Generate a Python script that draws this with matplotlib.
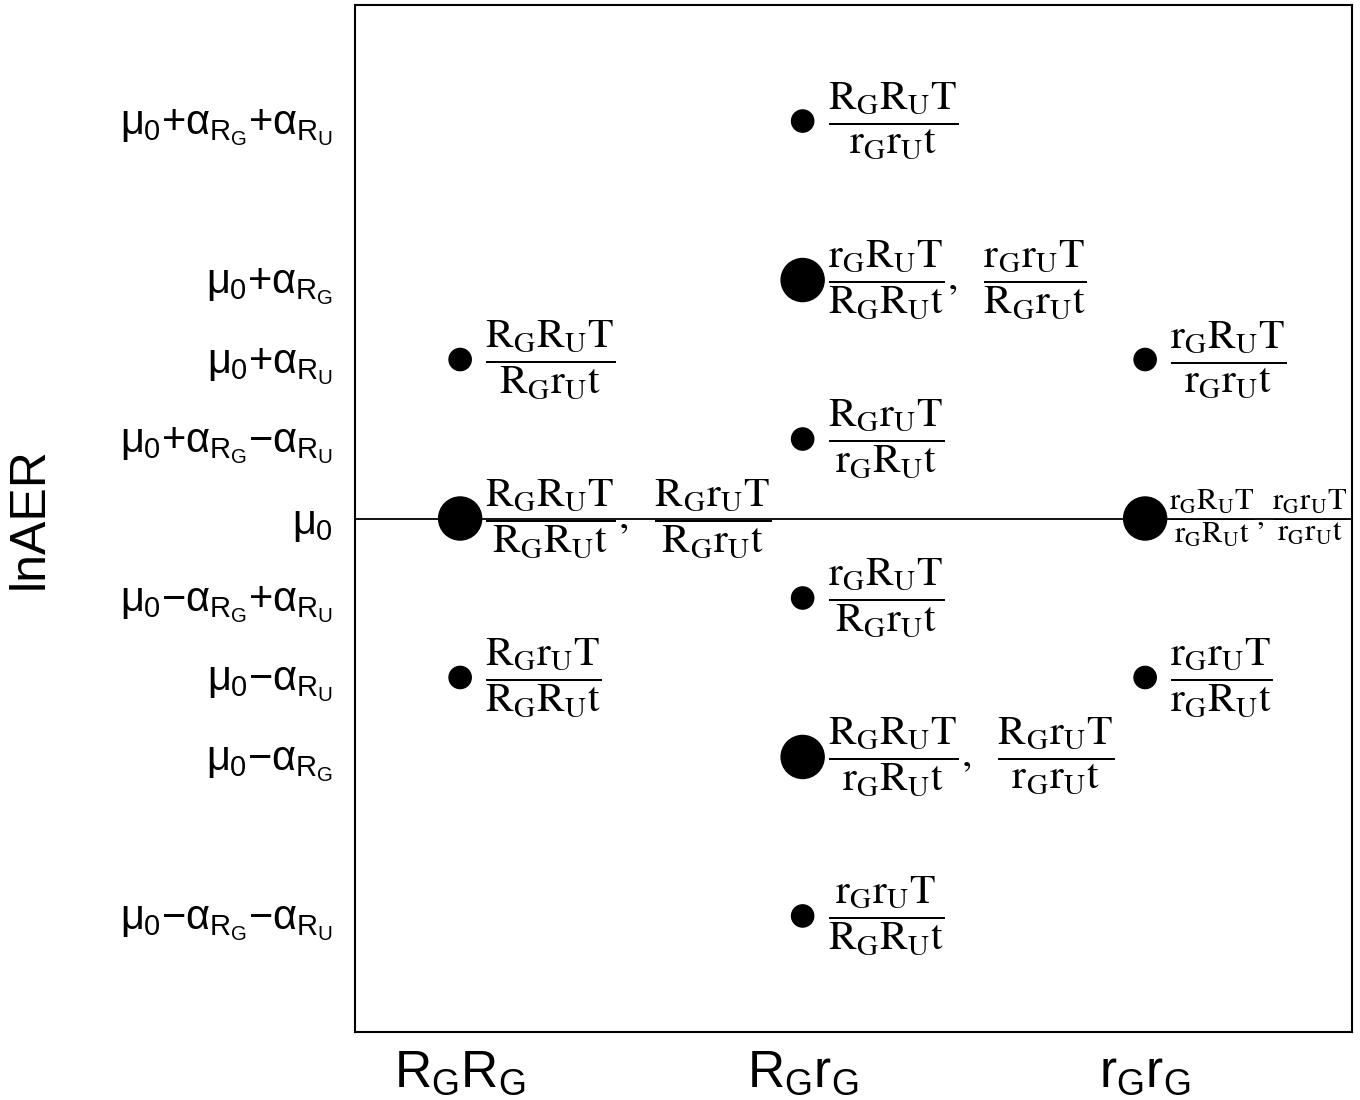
import numpy as np
import matplotlib.pyplot as plt

plt.rcParams['font.family'] = ['Liberation Sans', 'DejaVu Sans']
plt.rcParams['mathtext.fontset'] = 'custom'
plt.rcParams['mathtext.rm'] = 'Liberation Sans'
plt.rcParams['mathtext.it'] = 'Liberation Sans'
plt.rcParams['mathtext.bf'] = 'Liberation Sans:bold'

# genotype categories on the x axis
genotypes = [r'R$_\mathrm{G}$R$_\mathrm{G}$', r'R$_\mathrm{G}$r$_\mathrm{G}$', r'r$_\mathrm{G}$r$_\mathrm{G}$']

# lnAER levels (alpha_RU = 1, alpha_RG = 1.5)
level_vals = [2.5, 1.5, 1.0, 0.5, 0.0, -0.5, -1.0, -1.5, -2.5]
level_names = [r'$\mu_0{+}\alpha_{R_G}{+}\alpha_{R_U}$',
               r'$\mu_0{+}\alpha_{R_G}$',
               r'$\mu_0{+}\alpha_{R_U}$',
               r'$\mu_0{+}\alpha_{R_G}{-}\alpha_{R_U}$',
               r'$\mu_0$',
               r'$\mu_0{-}\alpha_{R_G}{+}\alpha_{R_U}$',
               r'$\mu_0{-}\alpha_{R_U}$',
               r'$\mu_0{-}\alpha_{R_G}$',
               r'$\mu_0{-}\alpha_{R_G}{-}\alpha_{R_U}$']

# points: genotype index, lnAER level, number of mating types (1 or 2)
pt_geno = [1, 1, 1, 2, 2, 2, 2, 2, 2, 3, 3, 3]
pt_level = [1.0, 0.0, -1.0, 2.5, 1.5, 0.5, -0.5, -1.5, -2.5, 1.0, 0.0, -1.0]
pt_count = [1, 2, 1, 1, 2, 1, 1, 2, 1, 1, 2, 1]
pt_labels = [
    [('R_GR_UT', 'R_Gr_Ut')],
    [('R_GR_UT', 'R_GR_Ut'), ('R_Gr_UT', 'R_Gr_Ut')],
    [('R_Gr_UT', 'R_GR_Ut')],
    [('R_GR_UT', 'r_Gr_Ut')],
    [('r_GR_UT', 'R_GR_Ut'), ('r_Gr_UT', 'R_Gr_Ut')],
    [('R_Gr_UT', 'r_GR_Ut')],
    [('r_GR_UT', 'R_Gr_Ut')],
    [('R_GR_UT', 'r_GR_Ut'), ('R_Gr_UT', 'r_Gr_Ut')],
    [('r_Gr_UT', 'R_GR_Ut')],
    [('r_GR_UT', 'r_Gr_Ut')],
    [('r_GR_UT', 'r_GR_Ut'), ('r_Gr_UT', 'r_Gr_Ut')],
    [('r_Gr_UT', 'r_GR_Ut')],
]


def frac_label(pairs, sep=r',\ \ '):
    parts = [r'\dfrac{\mathrm{%s}}{\mathrm{%s}}' % (n, d) for n, d in pairs]
    return '$' + sep.join(parts) + '$'


fig = plt.figure(figsize=(13.6, 11), dpi=100)
ax = fig.add_axes([355/1360, 1 - 1032/1100, 997/1360, 1027/1100])

ax.axhline(0, color='black', lw=1.3, zorder=1)

sizes = [16**2 if c == 1 else 31**2 for c in pt_count]
ax.scatter(pt_geno, pt_level, s=sizes, color='black', zorder=3)

for g, lv, lab in zip(pt_geno, pt_level, pt_labels):
    fs, sep, dx = 30, r',\ \ ', 18
    if g == 3 and len(lab) > 1:
        # squeezed against the right border like in the original
        fs, sep, dx = 22, r',\,', 17
    ax.annotate(frac_label(lab, sep), (g, lv), xytext=(dx, 0), textcoords='offset points',
                ha='left', va='center', fontsize=fs, math_fontfamily='stix',
                annotation_clip=False, zorder=2)

ax.set_xlim(0.693, 3.604)
ax.set_ylim(-3.23, 3.23)
ax.set_xticks([1, 2, 3])
ax.set_xticklabels(genotypes, fontsize=37)
ax.set_yticks(level_vals)
ax.set_yticklabels(level_names, fontsize=30)
ax.tick_params(axis='y', length=0, pad=16)
ax.tick_params(axis='x', length=0, pad=12)

ax.set_ylabel('lnAER', fontsize=36)
ax.yaxis.set_label_coords(-0.303, 0.5)

for sp in ax.spines.values():
    sp.set_linewidth(1.5)

fig.savefig('out.png', dpi=100)
